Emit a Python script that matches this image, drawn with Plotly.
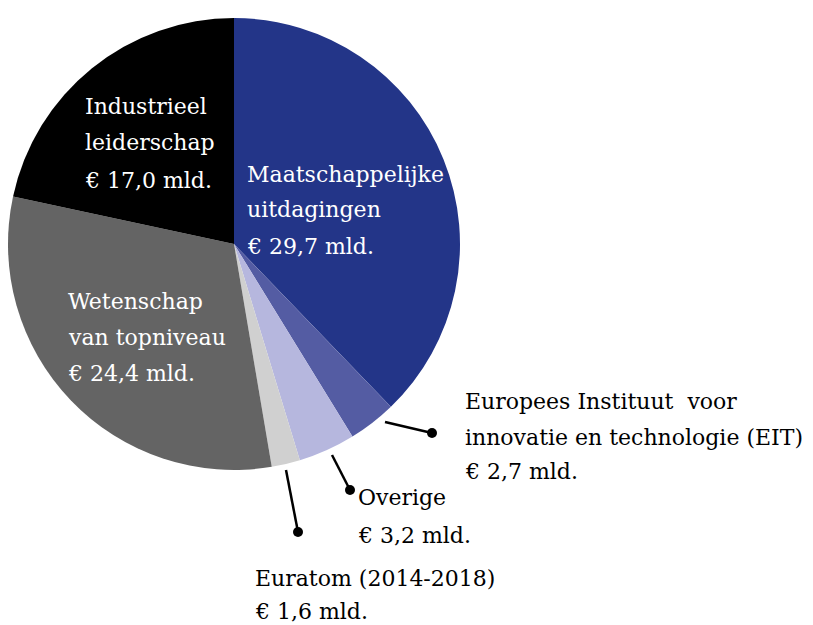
import plotly.graph_objects as go

W, H = 813, 625
OFF = 8  # page body margin offset

categories = ["Maatschappelijke uitdagingen",
              "Europees Instituut voor innovatie en technologie (EIT)",
              "Overige", "Euratom (2014-2018)",
              "Wetenschap van topniveau", "Industrieel leiderschap"]
values = [29.7, 2.7, 3.2, 1.6, 24.4, 17.0]
colors = ["#233588", "#545ca3", "#b6b7de", "#d0d0d0", "#646464", "#000000"]

label_lines = [
    ["Maatschappelijke", "uitdagingen", "€ 29,7 mld."],
    ["Europees Instituut  voor", "innovatie en technologie (EIT)", "€ 2,7 mld."],
    ["Overige", "€ 3,2 mld."],
    ["Euratom (2014-2018)", "€ 1,6 mld."],
    ["Wetenschap", "van topniveau", "€ 24,4 mld."],
    ["Industrieel", "leiderschap", "€ 17,0 mld."],
]
label_colors = ["white", "black", "black", "black", "white", "white"]

# layout positions (pixels)
label_pos = [
    (245, [174, 210, 246]),
    (463, [401, 437, 471]),
    (356, [497, 535]),
    (253, [578, 611]),
    (66, [301, 337, 373]),
    (83, [106, 143, 181]),
]
callouts = [None, ((385, 422), (432, 433)), ((332, 455), (350, 490)),
            ((286, 470), (298, 532)), None, None]

cx, cy, r = 234, 244, 231

def px(x):
    return (x - OFF) / W

def py(y):
    return 1 - (y - OFF) / H

half_w = cx - OFF
fig = go.Figure(go.Pie(
    labels=categories, values=values, sort=False, direction="clockwise",
    rotation=0, marker=dict(colors=colors, line=dict(width=0)),
    textinfo="none", hoverinfo="label+value", showlegend=False,
    domain=dict(x=[0, 2 * half_w / W], y=[py(cy + r), py(cy - r)]),
))

annotations = []
for lines, (x, ys), col in zip(label_lines, label_pos, label_colors):
    for line, y in zip(lines, ys):
        annotations.append(dict(
            text=line, x=px(x), y=py(y), xref="paper", yref="paper",
            xanchor="left", yanchor="middle", showarrow=False,
            font=dict(family="DejaVu Serif", size=22, color=col)))

shapes = []
for c in callouts:
    if c is None:
        continue
    (x0, y0), (x1, y1) = c
    shapes.append(dict(type="line", xref="paper", yref="paper",
                       x0=px(x0), y0=py(y0), x1=px(x1), y1=py(y1),
                       line=dict(color="black", width=2.5)))
    rr = 5
    shapes.append(dict(type="circle", xref="paper", yref="paper",
                       x0=px(x1 - rr), x1=px(x1 + rr), y0=py(y1 + rr), y1=py(y1 - rr),
                       fillcolor="black", line=dict(color="black", width=0)))

fig.update_layout(width=W, height=H, margin=dict(l=0, r=0, t=0, b=0),
                  paper_bgcolor="white", plot_bgcolor="white",
                  annotations=annotations, shapes=shapes)

fig.write_html("out.html")
